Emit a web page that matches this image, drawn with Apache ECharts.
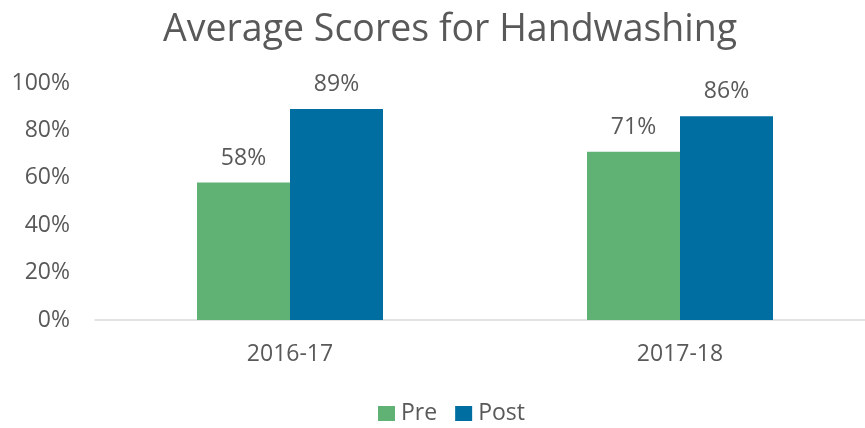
<!DOCTYPE html>
<html>
<head>
<meta charset="utf-8">
<script src="https://cdn.jsdelivr.net/npm/echarts@6/dist/echarts.min.js"></script>
<style>
  html, body { margin: 0; padding: 0; background: #fff; }
  #chart { width: 865px; height: 428px; }
</style>
</head>
<body>
<div id="chart"></div>
<script>
const years = ['2016-17', '2017-18']
const pre = [58, 71]
const post = [89, 86]
const yTicks = [0, 20, 40, 60, 80, 100]

const font = '"Open Sans", sans-serif'
const grey = '#595959'

const chart = echarts.init(document.getElementById('chart'))
const option = {
  animation: false,
  title: {
    text: 'Average Scores for Handwashing',
    left: 158,
    top: 6,
    textStyle: { fontFamily: font, fontSize: 37.5, fontWeight: 'normal', color: grey },
  },
  legend: {
    data: ['Pre', 'Post'],
    bottom: -2,
    left: 373,
    itemWidth: 17,
    itemHeight: 15,
    itemGap: 18,
    icon: 'rect',
    textStyle: { fontFamily: font, fontSize: 23, color: grey, padding: [0, 0, 0, 1] },
  },
  grid: {
    left: 95,
    top: 83,
    width: 780,
    height: 237,
    outerBoundsMode: 'none',
  },
  xAxis: {
    type: 'category',
    data: years,
    axisLine: { lineStyle: { color: '#d9d9d9', width: 1.5 } },
    axisTick: { show: false },
    axisLabel: { fontFamily: font, fontSize: 23, color: grey, margin: 23 },
  },
  yAxis: {
    type: 'value',
    min: yTicks[0],
    max: yTicks[yTicks.length - 1],
    interval: 20,
    splitLine: { show: false },
    axisLabel: { fontFamily: font, fontSize: 23, color: grey, margin: 25, formatter: '{value}%' },
  },
  series: [
    {
      name: 'Pre',
      type: 'bar',
      data: pre,
      barWidth: 93,
      barGap: 0,
      itemStyle: { color: '#5fb274' },
      label: { show: true, position: 'top', distance: 13, formatter: '{c}%', fontFamily: font, fontSize: 23, color: grey },
    },
    {
      name: 'Post',
      type: 'bar',
      data: post,
      barWidth: 93,
      barGap: 0,
      itemStyle: { color: '#006ea0' },
      label: { show: true, position: 'top', distance: 13, formatter: '{c}%', fontFamily: font, fontSize: 23, color: grey },
    },
  ],
}
chart.setOption(option)
</script>
</body>
</html>
